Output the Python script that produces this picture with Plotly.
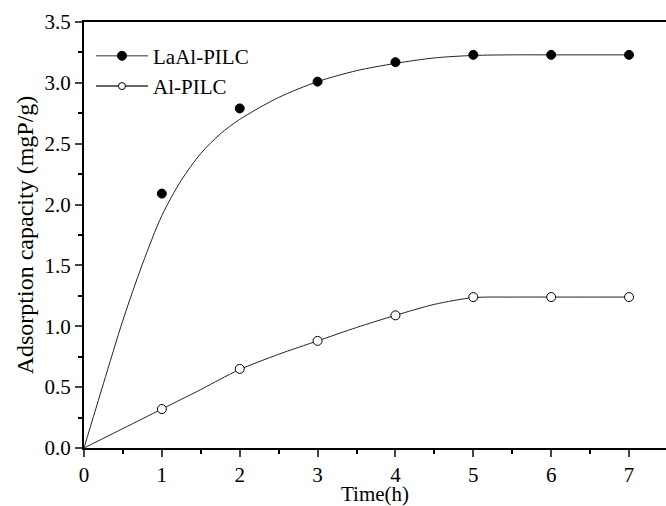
import plotly.graph_objects as go

time_h = [1, 2, 3, 4, 5, 6, 7]
laal_pilc = [2.09, 2.79, 3.01, 3.17, 3.23, 3.23, 3.23]
al_pilc = [0.32, 0.65, 0.88, 1.09, 1.24, 1.24, 1.24]

fit_x = [0, 0.25, 0.5, 0.75, 1, 1.25, 1.5, 1.75, 2, 2.5, 3, 3.5, 4, 4.5, 5, 5.5, 6, 6.5, 7]
laal_fit = [0, 0.53, 1.05, 1.51, 1.91, 2.20, 2.42, 2.58, 2.70, 2.88, 3.01, 3.10, 3.16, 3.205, 3.225, 3.23, 3.23, 3.23, 3.23]
al_fit = [0, 0.08, 0.16, 0.24, 0.32, 0.40, 0.48, 0.565, 0.645, 0.77, 0.88, 0.99, 1.09, 1.18, 1.235, 1.24, 1.24, 1.24, 1.24]

FONT = "Liberation Serif"
fig = go.Figure()

fig.add_trace(go.Scatter(x=fit_x, y=laal_fit, mode="lines", line=dict(color="#222", width=1, shape="spline", smoothing=0.8),
                         showlegend=False, hoverinfo="skip"))
fig.add_trace(go.Scatter(x=fit_x, y=al_fit, mode="lines", line=dict(color="#222", width=1, shape="spline", smoothing=0.8),
                         showlegend=False, hoverinfo="skip"))
fig.add_trace(go.Scatter(x=time_h, y=laal_pilc, mode="markers", showlegend=False,
                         marker=dict(symbol="circle", size=9, color="black", line=dict(color="black", width=1))))
fig.add_trace(go.Scatter(x=time_h, y=al_pilc, mode="markers", showlegend=False,
                         marker=dict(symbol="circle", size=9, color="white", line=dict(color="black", width=1))))

# legend entries
fig.add_trace(go.Scatter(x=[None], y=[None], mode="lines+markers", name="LaAl-PILC",
                         line=dict(color="#777", width=1.5),
                         marker=dict(symbol="circle", size=9, color="black", line=dict(color="black", width=1))))
fig.add_trace(go.Scatter(x=[None], y=[None], mode="lines+markers", name="Al-PILC",
                         line=dict(color="#333", width=1.5),
                         marker=dict(symbol="circle", size=7, color="white", line=dict(color="black", width=1))))

fig.update_layout(
    width=666, height=506,
    margin=dict(l=84, r=0, t=22, b=58),
    plot_bgcolor="white", paper_bgcolor="white",
    font=dict(family=FONT, size=21, color="black"),
    showlegend=True,
    legend=dict(x=0.012, y=0.968, xanchor="left", yanchor="top", bgcolor="rgba(0,0,0,0)",
                font=dict(family=FONT, size=21), itemwidth=52, tracegroupgap=0),
    xaxis=dict(range=[0, 7.475], tickvals=[0, 1, 2, 3, 4, 5, 6, 7], ticks="outside", ticklen=7, tickwidth=2,
               showline=True, linewidth=2, linecolor="black", mirror=True, showgrid=False, zeroline=False,
               minor=dict(dtick=0.5, ticks="outside", ticklen=4, tickwidth=1.5, tickcolor="black", tick0=0),
               tickfont=dict(family=FONT, size=21)),
    yaxis=dict(range=[0, 3.5], dtick=0.5, tickformat=".1f", ticks="outside", ticklen=7, tickwidth=2,
               showline=True, linewidth=2, linecolor="black", showgrid=False, zeroline=False,
               minor=dict(dtick=0.25, ticks="outside", ticklen=4, tickwidth=1.5, tickcolor="black", tick0=0),
               title=dict(text="Adsorption capacity (mgP/g)", font=dict(family=FONT, size=24), standoff=4),
               tickfont=dict(family=FONT, size=21)),
    annotations=[dict(text="Time(h)", xref="paper", yref="paper", x=0.5, y=-0.107,
                      xanchor="center", yanchor="middle", showarrow=False,
                      font=dict(family=FONT, size=21, color="black"))],
)

fig.write_html("out.html")
